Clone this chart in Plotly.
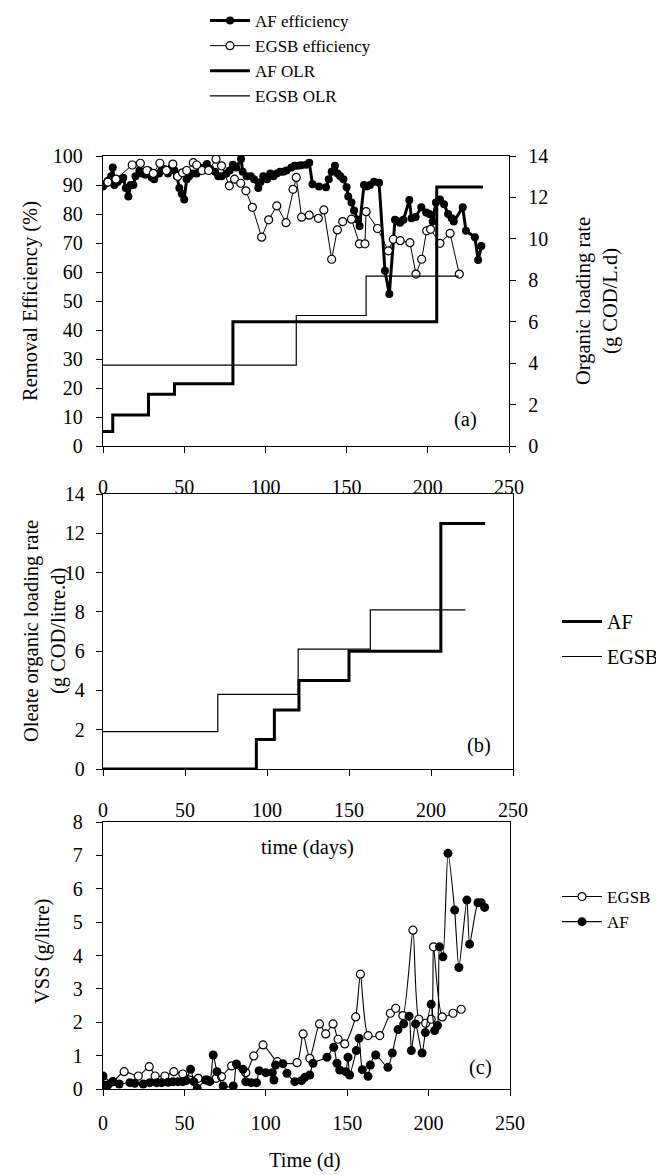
import plotly.graph_objects as go

# The page body has an 8 px margin, so the figure is drawn 8 px in from the
# top-left corner of the 664x1175 window.
OFF = 8
W, H = 664 - OFF, 1175 - OFF
FONT = "Liberation Serif"

# ---------------- Panel (a): removal efficiency (%) and OLR ----------------
af_eff_day = [0, 2, 3, 5, 6, 7, 9, 11, 12.5, 14, 15.6, 17, 18.7, 20, 22.4, 24, 26, 28,
              30, 31.5, 33, 34.5, 36, 38, 40, 42, 44, 45.5, 47, 48.5, 50, 51.5, 53, 55,
              57.7, 60, 62, 64, 66, 69, 71, 73, 76, 78, 80, 82, 85, 86, 88.5, 91, 93,
              95.6, 97, 98.7, 101, 103, 105, 107, 109, 111, 113, 116, 118, 120, 122,
              125, 127, 129, 133, 137.3, 139, 140.8, 142.8, 144.5, 146, 148, 150, 151,
              153, 154.6, 157, 158, 160.7, 162.5, 164.4, 166.9, 170, 173.6, 176.3,
              179.8, 181.5, 182.9, 185, 188.6, 190, 192.5, 196, 199, 201, 203, 205,
              207.5, 210, 212.5, 214.7, 216, 221.5, 223.5, 229, 231, 233]
af_eff = [89.5, 90.5, 91.5, 93, 96, 90, 91, 92, 92.5, 89, 86, 90, 90, 93, 95, 94, 93.5, 95,
          92.6, 92, 93.8, 94, 95, 95.5, 94, 95.8, 95, 93, 89, 87, 85, 92, 93, 94,
          94, 95, 96, 97.2, 95.5, 94.6, 93, 93, 94, 95, 97, 96, 99, 94.6, 93, 93, 92,
          89, 91, 93, 92, 94, 93, 94, 94.6, 94.6, 95, 96, 96.6, 96.6, 96.8,
          97, 97.7, 90.3, 89.5, 89.2, 92, 94.6, 96.6, 94, 93.1, 92, 89.2, 86,
          84, 81.2, 78, 75.9, 90, 89.5, 90, 91.1, 90.8, 60.4, 52.4,
          78, 77.5, 77, 78, 84.8, 78.5, 79, 82.3, 80.5, 80, 77.4, 84,
          85, 83.4, 80, 78.5, 77.4, 82.3, 74.2, 72, 64.1, 69]

egsb_eff_day = [3, 8, 18, 23, 27, 31, 35, 39, 43, 46, 49, 51.5, 55.6, 57.7, 61, 65, 69.6,
                73, 77.8, 81, 84.8, 88, 92, 97.7, 102, 107, 112.7, 117, 119, 122.3,
                127, 132.6, 136, 140.8, 144.3, 147.6, 153, 157.9, 161.3, 162, 169,
                175.7, 178.8, 183, 189, 192.7, 196.2, 199.3, 201.7, 207.5, 213.7, 219.4]
egsb_eff = [91, 92, 96.9, 97.5, 95, 94, 97.5, 95, 97.2, 93, 94.2, 95, 97.7, 96.9, 95, 95, 98.9,
            96.6, 89.7, 92, 90.6, 88, 82.3, 72, 78, 82.8, 77, 88.5, 92.6, 78.9,
            79.6, 78.5, 81.4, 64.4, 74.5, 77.4, 78.2, 69.7, 69.7, 80.8, 75,
            67.3, 71.3, 70.8, 70.1, 59.3, 64.4, 74.2, 74.7, 69.9, 73.3, 59.3]

af_olr_day = [0, 6, 28, 44, 80, 205.5, 234]
af_olr = [0.7, 1.5, 2.5, 3.0, 6.0, 12.5, 12.5]
egsb_olr_day = [0, 119, 162, 219]
egsb_olr = [3.9, 6.3, 8.2, 8.2]

# ---------------- Panel (b): oleate organic loading rate ----------------
af_oleate_day = [0, 93.5, 104.5, 119.5, 150, 206, 233]
af_oleate = [0, 1.5, 3.0, 4.5, 6.0, 12.5, 12.5]
egsb_oleate_day = [0, 70, 119, 163, 221]
egsb_oleate = [1.9, 3.8, 6.1, 8.1, 8.1]

# ---------------- Panel (c): VSS (g/litre) ----------------
egsb_vss_day = [1, 6, 13, 21.7, 28.4, 32, 38, 43.5, 49, 58.5, 64, 69.5, 72.8, 79, 87.7,
                92.6, 98.3, 107, 119.2, 122.9, 127, 133, 136.8, 141.3, 144.4, 148.5,
                155.2, 158.1, 162.8, 170, 176.5, 179.8, 184.2, 190.4, 194, 198.2,
                201.6, 203, 208.4, 215, 220]
egsb_vss = [0.2, 0.22, 0.52, 0.39, 0.67, 0.39, 0.39, 0.52, 0.45, 0.32, 0.27, 0.32, 0.37, 0.69, 0.49,
            0.99, 1.32, 0.82, 0.79, 1.65, 0.92, 1.95, 1.65, 1.95, 1.49, 1.35,
            2.16, 3.44, 1.6, 1.6, 2.27, 2.42, 2.2, 4.76, 2.09, 1.97,
            2.09, 4.26, 2.16, 2.27, 2.39]

af_vss_day = [0, 0.6, 3, 6, 10, 16.5, 19.5, 24.7, 28.8, 33, 36, 40, 43, 46, 49, 51, 53.8,
              55.8, 57.9, 63, 65.6, 67.7, 70, 73.8, 80, 82, 86, 87.7, 91, 94.3, 95.9,
              100, 104, 105, 106, 110.5, 113, 117.8, 121.9, 124, 127, 129, 137.6,
              141.7, 143.7, 145.4, 149, 150.5, 151.5, 155.6, 157.3, 159.3, 162.8,
              164.2, 167.5, 175, 177.7, 181.2, 184.7, 188, 189.4, 192, 196, 198,
              201.6, 203.7, 205.5, 206.7, 208.8, 211.9, 216, 218.6, 223.5, 225.2,
              230.3, 232.3, 234.4]
af_vss = [0.39, 0.12, 0.12, 0.22, 0.15, 0.19, 0.17, 0.15, 0.19, 0.19, 0.19, 0.2, 0.22, 0.22, 0.22, 0.25, 0.59,
          0.22, 0.02, 0.27, 0.22, 1.02, 0.52, 0.09, 0.09, 0.75, 0.59, 0.22, 0.19, 0.19, 0.55,
          0.49, 0.49, 0.27, 0.72, 0.76, 0.47, 0.22, 0.25, 0.35, 0.42, 0.77, 0.95,
          1.25, 0.77, 0.57, 0.52, 0.95, 0.42, 1.15, 1.52, 0.58, 0.38,
          0.72, 1.02, 0.65, 1.08, 1.78, 1.95, 2.18, 1.15, 1.95, 1.08, 1.69,
          2.54, 1.75, 1.9, 4.26, 3.96, 7.06, 5.36, 3.64, 5.66, 4.34,
          5.58, 5.58, 5.44]

x_ticks = [0, 50, 100, 150, 200, 250]


def fx(px):
    # window pixel x -> paper fraction
    return (px - OFF) / W


def fy(py):
    # window pixel y -> paper fraction
    return 1 - (py - OFF) / H


fig = go.Figure()

# Panel (a)
fig.add_trace(go.Scatter(x=af_eff_day, y=af_eff, name="AF efficiency", mode="lines+markers",
                         line=dict(color="black", width=3),
                         marker=dict(symbol="circle", size=8, color="black"),
                         xaxis="x", yaxis="y", legend="legend"))
fig.add_trace(go.Scatter(x=egsb_eff_day, y=egsb_eff, name="EGSB efficiency", mode="lines+markers",
                         line=dict(color="black", width=1),
                         marker=dict(symbol="circle", size=8, color="white",
                                     line=dict(color="black", width=1.2)),
                         xaxis="x", yaxis="y", legend="legend"))
fig.add_trace(go.Scatter(x=af_olr_day, y=af_olr, name="AF OLR", mode="lines",
                         line=dict(color="black", width=3, shape="hv"),
                         xaxis="x", yaxis="y2", legend="legend"))
fig.add_trace(go.Scatter(x=egsb_olr_day, y=egsb_olr, name="EGSB OLR", mode="lines",
                         line=dict(color="black", width=1.2, shape="hv"),
                         xaxis="x", yaxis="y2", legend="legend"))

# Panel (b)
fig.add_trace(go.Scatter(x=af_oleate_day, y=af_oleate, name="AF", mode="lines",
                         line=dict(color="black", width=3, shape="hv"),
                         xaxis="x2", yaxis="y3", legend="legend2", legendgroup="b1"))
fig.add_trace(go.Scatter(x=egsb_oleate_day, y=egsb_oleate, name="EGSB", mode="lines",
                         line=dict(color="black", width=1.2, shape="hv"),
                         xaxis="x2", yaxis="y3", legend="legend2", legendgroup="b2"))

# Panel (c)
fig.add_trace(go.Scatter(x=egsb_vss_day, y=egsb_vss, name="EGSB", mode="lines+markers",
                         line=dict(color="black", width=1.1, shape="spline", smoothing=0.6),
                         marker=dict(symbol="circle", size=8, color="white",
                                     line=dict(color="black", width=1.2)),
                         xaxis="x3", yaxis="y4", legend="legend3"))
fig.add_trace(go.Scatter(x=af_vss_day, y=af_vss, name="AF", mode="lines+markers",
                         line=dict(color="black", width=1.1, shape="spline", smoothing=0.6),
                         marker=dict(symbol="circle", size=9, color="black"),
                         xaxis="x3", yaxis="y4", legend="legend3"))

tickfont = dict(family=FONT, size=20, color="black")
common = dict(showgrid=False, zeroline=False, showline=True, linecolor="black", linewidth=1.3,
              ticks="outside", ticklen=6, tickwidth=1.2, tickcolor="black", tickfont=tickfont)

xdom_a = [fx(103), fx(509)]
xdom_b = [fx(103), fx(513)]
xdom_c = [fx(103), fx(510)]

fig.update_layout(
    width=W, height=H,
    margin=dict(l=0, r=0, t=0, b=0, autoexpand=False),
    paper_bgcolor="white", plot_bgcolor="white",
    font=dict(family=FONT, size=20, color="black"),
    xaxis=dict(domain=xdom_a, anchor="y", range=[0, 250], tickvals=x_ticks, mirror=True,
               ticklabelstandoff=17, **common),
    yaxis=dict(domain=[fy(446), fy(156)], anchor="x", range=[0, 100], dtick=10,
               ticklabelstandoff=9, **common),
    yaxis2=dict(overlaying="y", side="right", anchor="x", range=[0, 14], dtick=2,
                ticklabelstandoff=8, **common),
    xaxis2=dict(domain=xdom_b, anchor="y3", range=[0, 250], tickvals=x_ticks, mirror=True,
                ticklabelstandoff=17, **common),
    yaxis3=dict(domain=[fy(769), fy(494)], anchor="x2", range=[0, 14], dtick=2, mirror=True,
                ticklabelstandoff=7, **common),
    xaxis3=dict(domain=xdom_c, anchor="y4", range=[0, 250], tickvals=x_ticks, mirror=True,
                ticklabelstandoff=10, **common),
    yaxis4=dict(domain=[fy(1089), fy(822)], anchor="x3", range=[0, 8], dtick=1, mirror=True,
                ticklabelstandoff=9, **common),
    legend=dict(x=fx(205), y=fy(3), xanchor="left", yanchor="top", itemwidth=40,
                bgcolor="rgba(0,0,0,0)", font=dict(family=FONT, size=17, color="black"),
                tracegroupgap=0),
    legend2=dict(x=fx(557), y=fy(602), xanchor="left", yanchor="top", itemwidth=40,
                 bgcolor="rgba(0,0,0,0)", font=dict(family=FONT, size=20, color="black"),
                 tracegroupgap=6),
    legend3=dict(x=fx(557), y=fy(879), xanchor="left", yanchor="top", itemwidth=40,
                 bgcolor="rgba(0,0,0,0)", font=dict(family=FONT, size=17, color="black"),
                 tracegroupgap=0),
    showlegend=True,
)

ann = dict(xref="paper", yref="paper", showarrow=False,
           font=dict(family=FONT, size=20.5, color="black"))
fig.add_annotation(text="Removal Efficiency (%)", x=fx(30), y=fy(301), textangle=-90,
                   xanchor="center", yanchor="middle", **ann)
fig.add_annotation(text="Organic loading rate<br>(g COD/L.d)", x=fx(597), y=fy(301), textangle=-90,
                   xanchor="center", yanchor="middle", **ann)
fig.add_annotation(text="Oleate organic loading rate<br>(g COD/litre.d)", x=fx(45), y=fy(631),
                   textangle=-90, xanchor="center", yanchor="middle", **ann)
fig.add_annotation(text="VSS (g/litre)", x=fx(42), y=fy(952), textangle=-90,
                   xanchor="center", yanchor="middle", **ann)
fig.add_annotation(text="time (days)", x=fx(307), y=fy(847), xanchor="center", yanchor="middle", **ann)
fig.add_annotation(text="Time (d)", x=fx(305), y=fy(1160), xanchor="center", yanchor="middle", **ann)
fig.add_annotation(text="(a)", x=fx(465), y=fy(420), xanchor="center", yanchor="middle", **ann)
fig.add_annotation(text="(b)", x=fx(479), y=fy(745), xanchor="center", yanchor="middle", **ann)
fig.add_annotation(text="(c)", x=fx(480), y=fy(1067), xanchor="center", yanchor="middle", **ann)

fig.write_html("out.html")
